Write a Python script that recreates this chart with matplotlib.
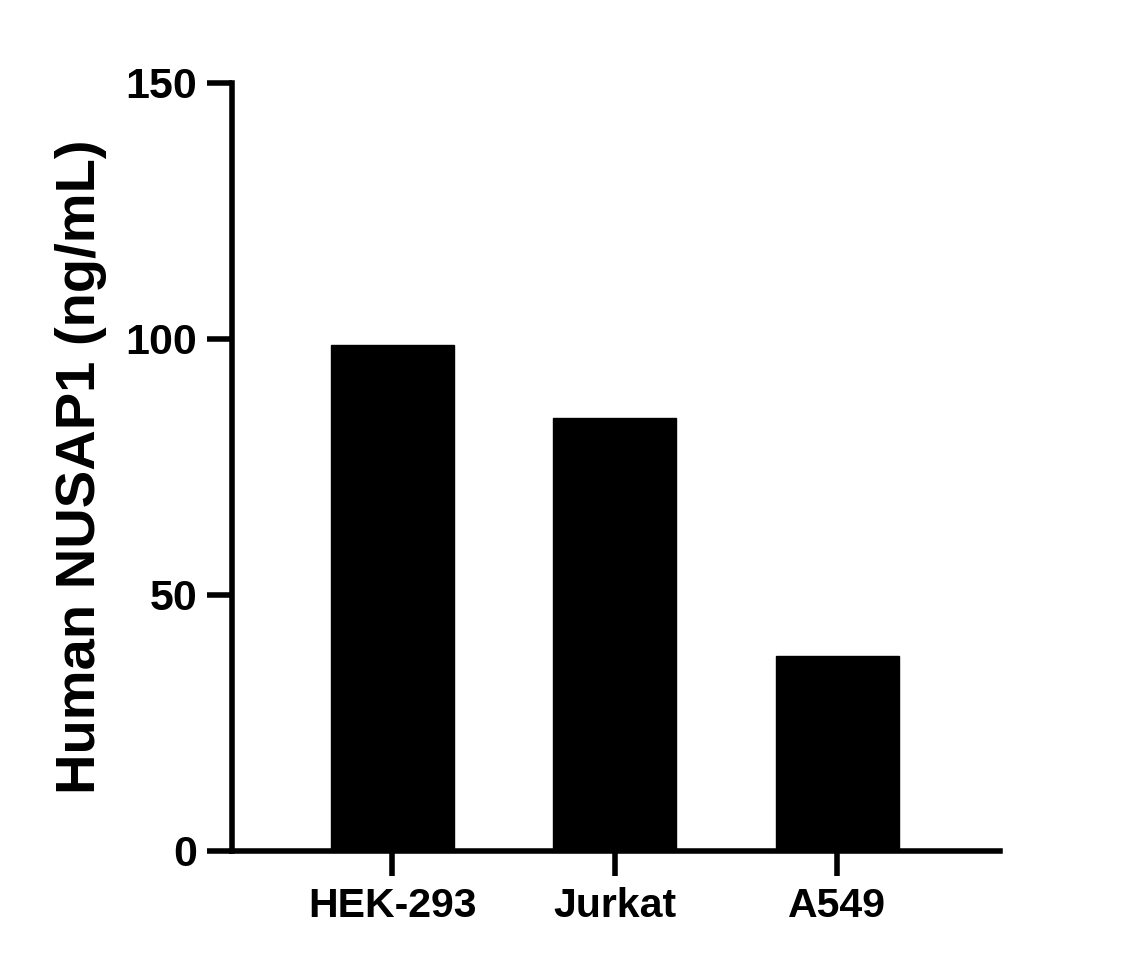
import matplotlib
matplotlib.use("Agg")
import matplotlib.pyplot as plt

categories = ["HEK-293", "Jurkat", "A549"]
values = [98.8, 84.6, 38.1]
yticks = [0, 50, 100, 150]
ylabel = "Human NUSAP1 (ng/mL)"

plt.rcParams['font.family'] = ['Liberation Sans', 'DejaVu Sans']
plt.rcParams['font.weight'] = 'bold'

fig = plt.figure(figsize=(11.37, 9.68), dpi=100)
ax = fig.add_axes([0.204, 0.1209, 0.6755, 0.7934])

x = range(len(categories))
ax.bar(x, values, width=0.553, color='black', edgecolor='black')

ax.set_xlim(-0.72, 2.73)
ax.set_ylim(0, 150)
ax.set_yticks(yticks)
ax.set_xticks(list(x))
ax.set_xticklabels(categories)

for s in ['top', 'right']:
    ax.spines[s].set_visible(False)
for s in ['left', 'bottom']:
    ax.spines[s].set_linewidth(4.0)
    ax.spines[s].set_capstyle('projecting')

ax.tick_params(axis='both', width=4.0, length=18)
ax.tick_params(axis='y', pad=7, labelsize=31)
ax.tick_params(axis='x', pad=8, labelsize=29.5)
for lab in ax.get_xticklabels() + ax.get_yticklabels():
    lab.set_fontweight('bold')

ax.set_ylabel(ylabel, fontsize=40.4, fontweight='bold', labelpad=13)

fig.savefig("out.png", dpi=100)
